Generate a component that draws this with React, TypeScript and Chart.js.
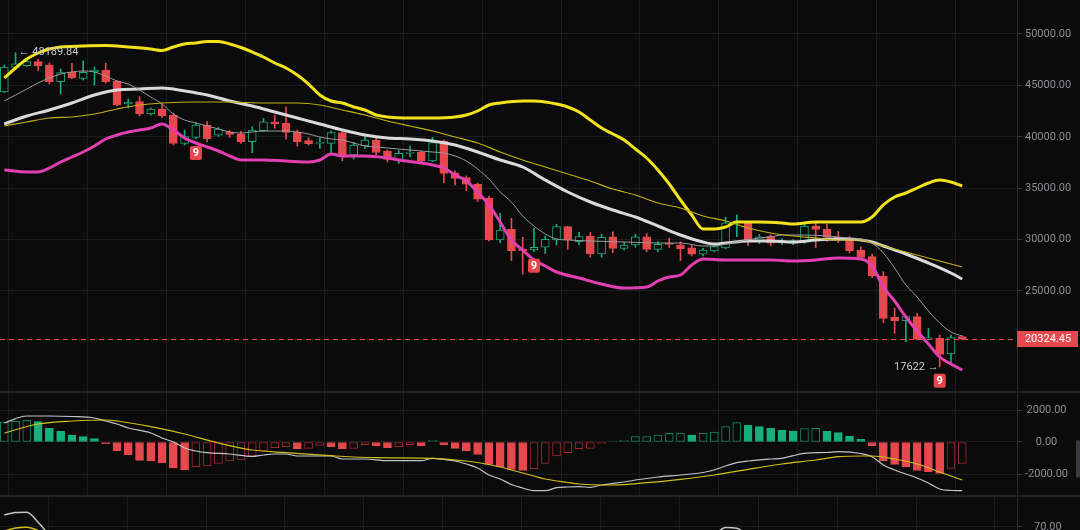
import React, { useEffect, useRef } from "react";
import { Chart, registerables } from "chart.js";

Chart.register(...registerables);

// ---------- DATA ----------
const opens = [
  44357, 46750, 46915, 47308, 46984, 45360, 46303, 45690, 46300, 46500,
  45430, 43190, 43420, 42217, 42703, 42120, 39366, 39950, 41147, 40160,
  40466, 40242, 39522, 40592, 41467, 41313, 40437, 39620, 39366, 39366,
  40400, 38228, 39133, 39688, 38600, 37740, 38390, 38490, 37645, 39590,
  36506, 36020, 35410, 34015, 29960, 31000, 29085, 29000, 29250, 29960,
  31253, 29800, 30350, 28600, 30280, 29150, 29473, 30280, 29050, 29640,
  29473, 29210, 28570, 28900, 29200, 31640, 31640, 29800, 30350, 29770,
  29640, 29800, 31320, 31000, 30220, 29960, 28990, 28340, 26460, 22440,
  22110, 22500, 20350, 20400, 18870, 20560,
];
const highs = [
  46983, 48189.84, 47450, 47570, 47180, 46595, 47150, 47370, 46790, 47150,
  45500, 43676, 43900, 42800, 43287, 42314, 40660, 41370, 41470, 40900,
  40600, 40550, 40980, 41790, 42120, 42925, 40660, 39910, 39910, 40565,
  40500, 39460, 40077, 40000, 38715, 38660, 39100, 38600, 39950, 39690,
  36700, 36186, 35500, 34240, 32560, 32070, 30220, 31127, 30350, 31486,
  31300, 30708, 30700, 30500, 30766, 29700, 30500, 30600, 29800, 30130,
  29800, 29500, 29150, 29500, 32170, 32390, 31750, 30500, 30480, 30100,
  30000, 31500, 31580, 31520, 30790, 30300, 29300, 28600, 26880, 23310,
  22500, 22830, 21370, 20700, 20700, 20650,
];
const lows = [
  44300, 46600, 46850, 46430, 45135, 44160, 45650, 45525, 45040, 45233,
  43000, 42800, 42022, 42100, 41857, 39202, 39200, 39785, 39520, 40050,
  39950, 39360, 38450, 40500, 40830, 39757, 39100, 39200, 38860, 38400,
  37670, 37830, 38841, 38250, 37550, 37400, 38060, 37550, 37580, 35535,
  35310, 34760, 33685, 29863, 29700, 27950, 26650, 28820, 28640, 29473,
  29050, 29473, 28300, 28300, 28720, 29000, 29250, 28800, 28800, 29250,
  27950, 28400, 28400, 28800, 29100, 30280, 29400, 29600, 29400, 29500,
  29500, 29640, 29200, 29820, 29700, 28700, 28180, 26300, 21915, 20880,
  20060, 20230, 20230, 17622, 17960, 20250,
];
const closes = [
  46789, 47100, 47308, 46915, 45360, 46235, 45720, 46270, 46500, 45360,
  43093, 43385, 42217, 42703, 42052, 39366, 40009, 41147, 39785, 40745,
  40242, 39522, 40660, 41467, 41244, 40437, 39522, 39330, 39460, 40400,
  38065, 39200, 39688, 38491, 37800, 38394, 38480, 37645, 39425, 36447,
  35960, 35380, 33920, 29960, 30933, 28920, 28920, 29250, 30030, 31253,
  29960, 30300, 28600, 30220, 29150, 29473, 30280, 29050, 29540, 29540,
  29080, 28570, 28985, 29310, 31640, 31830, 29800, 30280, 29640, 29830,
  29900, 31320, 31000, 30220, 29960, 28920, 28270, 26460, 22340, 22080,
  22500, 20300, 20420, 18840, 20460, 20324.45,
];

// Bollinger upper / middle / lower and moving averages: [candle index, price]
const bbUpper = [
  [0, 45719], [1, 46692], [2, 47567], [3, 48151], [4, 48540], [5, 48735], [7, 48832], [9, 48881],
  [11, 48735], [13, 48540], [14, 48394], [15, 48735], [16, 49027], [17, 49124], [18, 49270], [19, 49270],
  [20, 49027], [21, 48686], [22, 48248], [23, 47762], [24, 47178], [25, 46692], [26, 46011], [27, 45135],
  [28, 44065], [29, 43482], [30, 43287], [31, 42898], [32, 42606], [33, 42120], [34, 41925], [36, 41828],
  [38, 41828], [40, 41925], [41, 42120], [42, 42509], [43, 43093], [44, 43287], [46, 43482], [47, 43482],
  [48, 43384], [49, 43190], [50, 42898], [51, 42412], [52, 41633], [53, 40855], [54, 40271], [55, 39688],
  [56, 38812], [57, 37937], [58, 36769], [59, 35407], [60, 33851], [61, 32392], [62, 31030], [63, 31030],
  [64, 31224], [65, 31711], [67, 31711], [69, 31614], [70, 31516], [72, 31711], [74, 31711], [76, 31711],
  [77, 32197], [78, 33365], [79, 34143], [80, 34532], [81, 35018], [82, 35505], [83, 35797], [84, 35602],
  [85, 35213],
];
const bbMiddle = [
  [0, 41244], [2, 42023], [4, 42606], [6, 43287], [8, 44065], [10, 44552], [12, 44649], [14, 44746],
  [16, 44455], [18, 44065], [20, 43482], [22, 42995], [24, 42412], [26, 41828], [28, 41244], [30, 40661],
  [32, 40174], [34, 39882], [36, 39785], [38, 39591], [40, 39201], [42, 38520], [44, 37742], [46, 37061],
  [48, 35797], [50, 34629], [52, 33656], [54, 32878], [56, 32197], [58, 31322], [60, 30446], [62, 29765],
  [63, 29571], [64, 29668], [66, 29863], [68, 29863], [70, 29765], [72, 29960], [74, 30057], [76, 29960],
  [77, 29765], [78, 29376], [80, 28598], [82, 27722], [84, 26750], [85, 26166],
];
const bbLower = [
  [0, 36769], [2, 36575], [3, 36575], [4, 36964], [5, 37548], [6, 38034], [7, 38520], [8, 39104],
  [9, 39785], [10, 40174], [11, 40466], [12, 40661], [13, 40855], [14, 41244], [15, 40661], [16, 39882],
  [17, 39396], [18, 39007], [19, 38618], [20, 38131], [21, 37742], [23, 37742], [25, 37645], [27, 37548],
  [28, 37742], [29, 38326], [30, 38131], [32, 38131], [34, 37937], [35, 37742], [37, 37450], [38, 37256],
  [39, 36964], [40, 36283], [41, 35699], [42, 34629], [43, 33365], [44, 31711], [45, 29960], [46, 28987],
  [47, 28014], [48, 27431], [49, 26847], [51, 26263], [53, 25679], [55, 25290], [57, 25388], [58, 25971],
  [59, 26360], [60, 26555], [61, 27528], [62, 28111], [64, 28014], [66, 28014], [68, 28014], [70, 27917],
  [72, 28014], [74, 28209], [76, 28111], [77, 27431], [78, 25388], [79, 24026], [80, 22469], [81, 21107],
  [82, 19843], [83, 18578], [84, 17897], [85, 17313],
];
const maFast = [
  [0, 43482], [1, 44065], [2, 44649], [3, 45233], [4, 45719], [5, 46108], [6, 46303], [7, 46400],
  [8, 46303], [9, 45914], [10, 45427], [11, 45135], [12, 44552], [13, 43871], [14, 43190], [15, 42217],
  [16, 41633], [17, 41342], [18, 41050], [19, 40758], [20, 40466], [21, 40369], [22, 40466], [23, 40563],
  [25, 40563], [26, 40466], [27, 40271], [28, 39980], [29, 39785], [30, 39688], [31, 39396], [32, 39104],
  [33, 39007], [34, 38910], [35, 38812], [36, 38715], [38, 38520], [39, 38423], [40, 38131], [41, 37645],
  [42, 36867], [43, 35894], [44, 34629], [45, 33656], [46, 32295], [47, 31322], [48, 30543], [49, 30057],
  [50, 29960], [52, 29863], [55, 29765], [58, 29668], [60, 29668], [62, 29376], [63, 29376], [64, 29571],
  [65, 29765], [67, 30154], [68, 30252], [69, 30446], [71, 30446], [73, 30349], [75, 30154], [76, 30057],
  [77, 29668], [78, 28695], [79, 27236], [80, 25582], [81, 24415], [82, 23053], [83, 21886], [84, 21010],
  [85, 20621],
];
const maSlow = [
  [0, 41050], [2, 41439], [4, 41828], [6, 41925], [8, 42217], [10, 42703], [12, 43093], [14, 43287],
  [17, 43384], [20, 43384], [23, 43287], [26, 43287], [28, 43093], [30, 42606], [32, 42120], [34, 41536],
  [36, 41050], [38, 40563], [40, 39980], [42, 39396], [44, 38520], [46, 37742], [48, 37061], [50, 36380],
  [52, 35699], [54, 34921], [56, 34337], [58, 33559], [60, 33073], [62, 32295], [64, 31808], [66, 31127],
  [68, 30641], [70, 30349], [72, 30154], [74, 29960], [76, 29960], [77, 29668], [79, 29084], [81, 28501],
  [83, 27917], [85, 27333],
];

// MACD
const macdHist = [
  1250, 1290, 1354, 1271, 854, 688, 438, 333, 208, -104,
  -542, -792, -1146, -1188, -1292, -1625, -1750, -1542, -1500, -1333,
  -1188, -1125, -875, -563, -354, -292, -417, -400, -208, -290,
  -417, -396, -167, -250, -354, -292, -167, -250, 104, -188,
  -396, -563, -771, -1396, -1542, -1708, -1771, -1667, -1333, -875,
  -667, -417, -400, -104, 63, 104, 333, 340, 438, 542,
  550, 438, 542, 625, 958, 1208, 1042, 958, 854, 750,
  688, 833, 854, 688, 583, 375, 167, -250, -1188, -1396,
  -1542, -1771, -1875, -1958, -1646, -1333,
];
const macdDif = [
  [0, 1188], [2, 1625], [4, 1625], [6, 1594], [8, 1500], [9, 1313], [10, 1125], [11, 875], [13, 563],
  [14, 250], [15, 0], [16, -375], [17, -563], [18, -669], [20, -750], [22, -906], [23, -813], [24, -750],
  [25, -750], [26, -875], [29, -875], [30, -1063], [32, -1063], [34, -1169], [37, -1169], [38, -1019],
  [39, -1094], [40, -1188], [41, -1375], [42, -1625], [43, -2063], [44, -2313], [45, -2656], [46, -2875],
  [47, -3044], [48, -3044], [49, -2856], [50, -2813], [51, -2794], [52, -2831], [53, -2688], [55, -2500],
  [56, -2375], [58, -2188], [60, -2063], [62, -1906], [63, -1750], [64, -1500], [65, -1294], [66, -1188],
  [68, -1063], [69, -1019], [71, -706], [73, -656], [74, -606], [76, -719], [77, -919], [78, -1438],
  [79, -1750], [80, -2000], [81, -2250], [82, -2563], [83, -2938], [84, -3031], [85, -3044],
];
const macdDea = [
  [0, 563], [3, 1125], [6, 1313], [9, 1375], [10, 1313], [13, 956], [16, 500], [19, -63], [22, -500],
  [25, -669], [29, -856], [33, -981], [38, -1019], [41, -1188], [42, -1281], [43, -1406], [44, -1563],
  [45, -1750], [47, -2125], [48, -2313], [50, -2531], [51, -2625], [54, -2688], [57, -2544], [60, -2331],
  [63, -2063], [66, -1706], [69, -1375], [72, -1125], [74, -919], [76, -875], [77, -875], [79, -1063],
  [81, -1375], [83, -1875], [85, -2375],
];

// lower oscillator (only its top edge is visible)
const oscFast = [[0, 80], [1, 82], [2, 82.3], [3, 74], [4, 63], [5, 52], [62, 55], [63, 63], [64, 69.5], [65, 69], [66, 62], [67, 55]];
const oscSlow = [[0, 66.7], [1, 69.2], [2, 69.8], [3, 67], [4, 62], [5, 56]];

// tick labels
const priceTicks = [25000, 30000, 35000, 40000, 45000, 50000];
const macdTicks = [-2000, 0, 2000];
const oscTicks = [70];
const nineMarks = [17, 47, 83];

// ---------- STYLE ----------
const BG = "#0b0b0c";
const GRID = "#1b1b20";
const AXIS = "#2a2a30";
const LABEL = "#8d8d93";
const RED = "#e5484d";
const GREEN = "#17ad78";
const GREEN_M = "#16b07a";
const RED_HOLLOW = "#a3292e";
const GREEN_HOLLOW = "#12895e";
const FONT = "Roboto, 'Noto Sans', sans-serif";

const X_MIN = -0.38;
const X_MAX = 89.86;
const gridIdx = Array.from({ length: 13 }, (_, k) => 3.9 + 7 * k);

Chart.defaults.font.family = FONT;

const xScale = () => ({
  type: "linear",
  min: X_MIN,
  max: X_MAX,
  offset: false,
  afterBuildTicks: (s: any) => {
    s.ticks = gridIdx.map((v) => ({ value: v }));
  },
  ticks: { display: false },
  grid: { color: GRID, drawTicks: false, lineWidth: 1 },
  border: { display: false },
  afterFit: (s: any) => {
    s.height = 0;
    s.paddingLeft = 0;
    s.paddingRight = 0;
  },
});

const yScale = (min: number, max: number, vals: number[], pad = 3) => ({
  type: "linear",
  position: "right",
  min,
  max,
  afterBuildTicks: (s: any) => {
    s.ticks = vals.map((v) => ({ value: v }));
  },
  ticks: {
    color: LABEL,
    font: { size: 11, family: FONT },
    padding: pad,
    crossAlign: "center",
    callback: (v: any) => Number(v).toFixed(2),
  },
  grid: { color: GRID, tickColor: "#3a3a40", tickLength: 5, drawTicks: true },
  border: { display: true, color: AXIS },
  afterFit: (s: any) => {
    s.width = 63;
    s.paddingTop = 0;
    s.paddingBottom = 0;
  },
});

const lineDs = (pts: number[][], color: string, width: number, order = 1) => ({
  type: "line",
  data: pts.map(([x, y]) => ({ x, y })),
  borderColor: color,
  borderWidth: width,
  pointRadius: 0,
  fill: false,
  cubicInterpolationMode: "monotone",
  order,
});

const baseOptions = (scales: any) => ({
  animation: false,
  responsive: false,
  events: [],
  layout: { padding: 0 },
  plugins: { legend: { display: false }, tooltip: { enabled: false } },
  scales,
});

const roundRect = (ctx: CanvasRenderingContext2D, x: number, y: number, w: number, h: number, r: number) => {
  ctx.beginPath();
  ctx.moveTo(x + r, y);
  ctx.lineTo(x + w - r, y);
  ctx.quadraticCurveTo(x + w, y, x + w, y + r);
  ctx.lineTo(x + w, y + h - r);
  ctx.quadraticCurveTo(x + w, y + h, x + w - r, y + h);
  ctx.lineTo(x + r, y + h);
  ctx.quadraticCurveTo(x, y + h, x, y + h - r);
  ctx.lineTo(x, y + r);
  ctx.quadraticCurveTo(x, y, x + r, y);
  ctx.closePath();
};

const overlayPlugin = {
  id: "overlay",
  afterDraw(chart: any) {
    const { ctx, chartArea, scales } = chart;
    const x = scales.x;
    const y = scales.y;
    ctx.save();
    // last price dashed line (solid red dashes)
    const last = closes[closes.length - 1];
    const py = Math.round(y.getPixelForValue(last));
    ctx.fillStyle = RED;
    for (let px = chartArea.left; px < chartArea.right; px += 9) {
      ctx.fillRect(px, py, Math.min(5, chartArea.right - px), 1);
    }
    // price label
    ctx.fillStyle = RED;
    ctx.fillRect(chartArea.right, py - 8, 61, 16);
    ctx.fillStyle = "#ffffff";
    ctx.font = `11px ${FONT}`;
    ctx.textAlign = "center";
    ctx.textBaseline = "middle";
    ctx.fillText(last.toFixed(2), chartArea.right + 31, py + 0.5);

    // "9" markers
    nineMarks.forEach((i) => {
      const cx = x.getPixelForValue(i);
      const top = y.getPixelForValue(lows[i]) + 7;
      ctx.fillStyle = RED;
      roundRect(ctx, cx - 6, top, 12, 14, 2);
      ctx.fill();
      ctx.fillStyle = "#ffffff";
      ctx.font = `bold 11px ${FONT}`;
      ctx.textAlign = "center";
      ctx.textBaseline = "middle";
      ctx.fillText("9", cx, top + 7.5);
    });

    // max / min annotations
    let hi = 0;
    let lo = 0;
    highs.forEach((v, i) => { if (v > highs[hi]) hi = i; });
    lows.forEach((v, i) => { if (v < lows[lo]) lo = i; });
    ctx.fillStyle = "#c9c9cd";
    ctx.font = `11px ${FONT}`;
    ctx.textBaseline = "middle";
    ctx.textAlign = "left";
    ctx.fillText("\u2190 " + String(highs[hi]), x.getPixelForValue(hi) + 3, y.getPixelForValue(highs[hi]));
    ctx.textAlign = "right";
    ctx.fillText(String(lows[lo]) + " \u2192", x.getPixelForValue(lo) - 1, y.getPixelForValue(lows[lo]));
    ctx.restore();
  },
};

export default function App() {
  const mainRef = useRef<HTMLCanvasElement>(null);
  const macdRef = useRef<HTMLCanvasElement>(null);
  const oscRef = useRef<HTMLCanvasElement>(null);

  useEffect(() => {
    const idx = opens.map((_, i) => i);
    const up = (i: number) => closes[i] >= opens[i];

    const main = new Chart(mainRef.current as HTMLCanvasElement, {
      type: "bar",
      data: {
        datasets: [
          {
            type: "bar",
            data: idx.map((i) => ({ x: i, y: [lows[i], highs[i]] })),
            backgroundColor: idx.map((i) => (up(i) ? GREEN : RED)),
            borderWidth: 0,
            barThickness: 1,
            grouped: false,
            order: 4,
          },
          {
            type: "bar",
            data: idx.map((i) => ({ x: i, y: [opens[i], closes[i]] })),
            backgroundColor: idx.map((i) => (up(i) ? BG : RED)),
            borderColor: idx.map((i) => (up(i) ? GREEN : RED)),
            borderWidth: 1,
            borderSkipped: false,
            barThickness: 8,
            minBarLength: 1,
            grouped: false,
            order: 3,
          },
          lineDs(maSlow, "#c2b10f", 1.2),
          lineDs(maFast, "#9a9a9e", 1),
          lineDs(bbMiddle, "#d9d9dc", 3),
          lineDs(bbUpper, "#f2e21e", 3),
          lineDs(bbLower, "#e23fb0", 3),
        ] as any,
      },
      options: baseOptions({ x: xScale(), y: yScale(15173, 53307, priceTicks) }) as any,
      plugins: [overlayPlugin],
    });

    const macd = new Chart(macdRef.current as HTMLCanvasElement, {
      type: "bar",
      data: {
        datasets: [
          {
            type: "bar",
            data: idx.map((i) => ({ x: i, y: macdHist[i] })),
            backgroundColor: idx.map((i) => {
              const rising = i === 0 || macdHist[i] > macdHist[i - 1];
              if (rising) return BG;
              return macdHist[i] >= 0 ? GREEN_M : RED;
            }),
            borderColor: idx.map((i) => {
              const rising = i === 0 || macdHist[i] > macdHist[i - 1];
              if (macdHist[i] >= 0) return rising ? GREEN_HOLLOW : GREEN_M;
              return rising ? RED_HOLLOW : RED;
            }),
            borderWidth: 1,
            borderSkipped: false,
            barThickness: 8,
            grouped: false,
            order: 3,
          },
          lineDs(macdDea, "#d2bf1c", 1.2),
          lineDs(macdDif, "#c4c4c8", 1.2),
        ] as any,
      },
      options: baseOptions({ x: xScale(), y: yScale(-3375, 3125, macdTicks) }) as any,
    });

    const osc = new Chart(oscRef.current as HTMLCanvasElement, {
      type: "line",
      data: {
        datasets: [lineDs(oscSlow, "#d2bf1c", 1.5), lineDs(oscFast, "#c4c4c8", 1.5)] as any,
      },
      options: baseOptions({ x: xScale(), y: yScale(67.5, 95.8, oscTicks, 12) }) as any,
    });

    return () => {
      main.destroy();
      macd.destroy();
      osc.destroy();
    };
  }, []);

  return (
    <div
      style={{
        position: "fixed",
        left: 0,
        top: 0,
        width: 1080,
        height: 530,
        background: BG,
        overflow: "hidden",
      }}
    >
      <canvas ref={mainRef} width={1080} height={392} style={{ position: "absolute", left: 0, top: 0, display: "block" }} />
      <canvas ref={macdRef} width={1080} height={104} style={{ position: "absolute", left: 0, top: 392, display: "block" }} />
      <canvas ref={oscRef} width={1080} height={34} style={{ position: "absolute", left: 0, top: 496, display: "block" }} />
      <div style={{ position: "absolute", left: 0, top: 391, width: 1080, height: 2, background: "#232327" }} />
      <div style={{ position: "absolute", left: 0, top: 495, width: 1080, height: 2, background: "#232327" }} />
      <div style={{ position: "absolute", left: 1076, top: 440, width: 4, height: 38, background: "#3a3a3f", borderRadius: 2 }} />
    </div>
  );
}
